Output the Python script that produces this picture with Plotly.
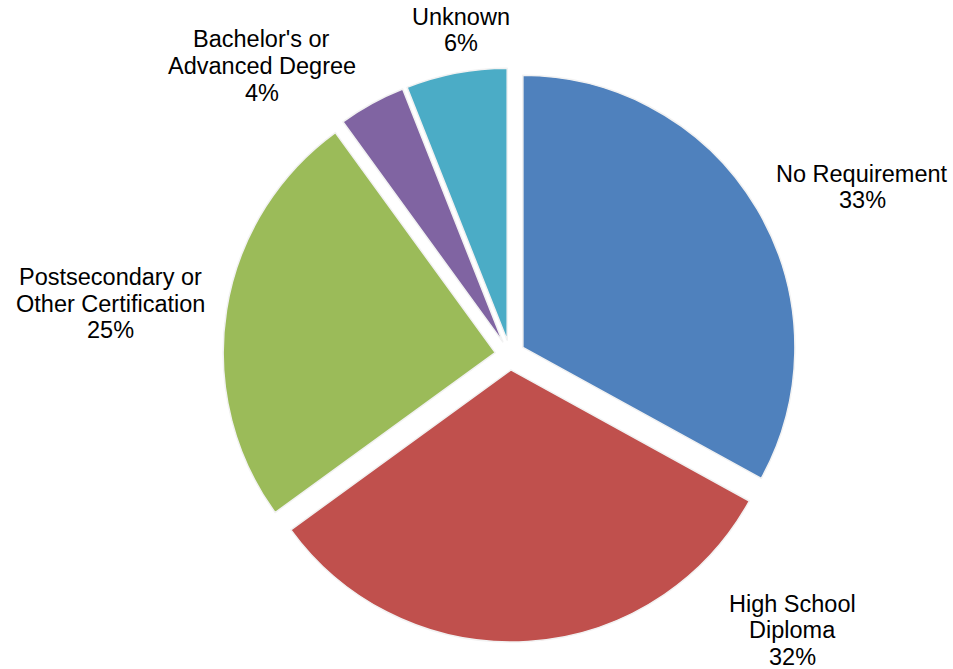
import plotly.graph_objects as go

# ---- data ----
categories = ["No Requirement", "High School Diploma", "Postsecondary or Other Certification",
              "Bachelor's or Advanced Degree", "Unknown"]
label_lines = [["No Requirement"], ["High School", "Diploma"],
               ["Postsecondary or", "Other Certification"],
               ["Bachelor's or", "Advanced Degree"], ["Unknown"]]
values = [33, 32, 25, 4, 6]
colors = ["#4F81BD", "#C0504D", "#9BBB59", "#8064A2", "#4BACC6"]

# ---- layout (pixel positions of label blocks: centre x, centre y) ----
W, H = 953, 669
label_pos = [(862, 187), (792, 630), (110.5, 303.5), (261.5, 66), (461, 30)]
LINE = 26.5
FONT = dict(family="Arial, Liberation Sans, sans-serif", size=23.5, color="#000000")

total = sum(values)

fig = go.Figure(go.Pie(
    labels=categories,
    values=values,
    sort=False,
    direction="clockwise",
    rotation=0,
    pull=0.055,
    marker=dict(colors=colors, line=dict(color="#F2F2F2", width=1.5)),
    textinfo="none",
    showlegend=False,
    automargin=False,
    domain=dict(x=[223 / W, 797 / W], y=[27 / H, 601 / H]),
    hoverinfo="label+percent",
))

annotations = []
for lines, v, (cx, cy) in zip(label_lines, values, label_pos):
    all_lines = lines + [f"{round(100 * v / total)}%"]
    n = len(all_lines)
    for i, t in enumerate(all_lines):
        py = cy + (i - (n - 1) / 2) * LINE
        annotations.append(dict(
            text=t, x=cx / W, y=1 - py / H, xref="paper", yref="paper",
            xanchor="center", yanchor="middle", showarrow=False, font=FONT,
        ))

fig.update_layout(
    width=W, height=H,
    margin=dict(l=0, r=0, t=0, b=0),
    paper_bgcolor="white",
    plot_bgcolor="white",
    annotations=annotations,
)

fig.write_html(
    "out.html",
    config={"displayModeBar": False},
    post_script="document.body.style.margin='0';document.body.style.overflow='hidden';",
)
